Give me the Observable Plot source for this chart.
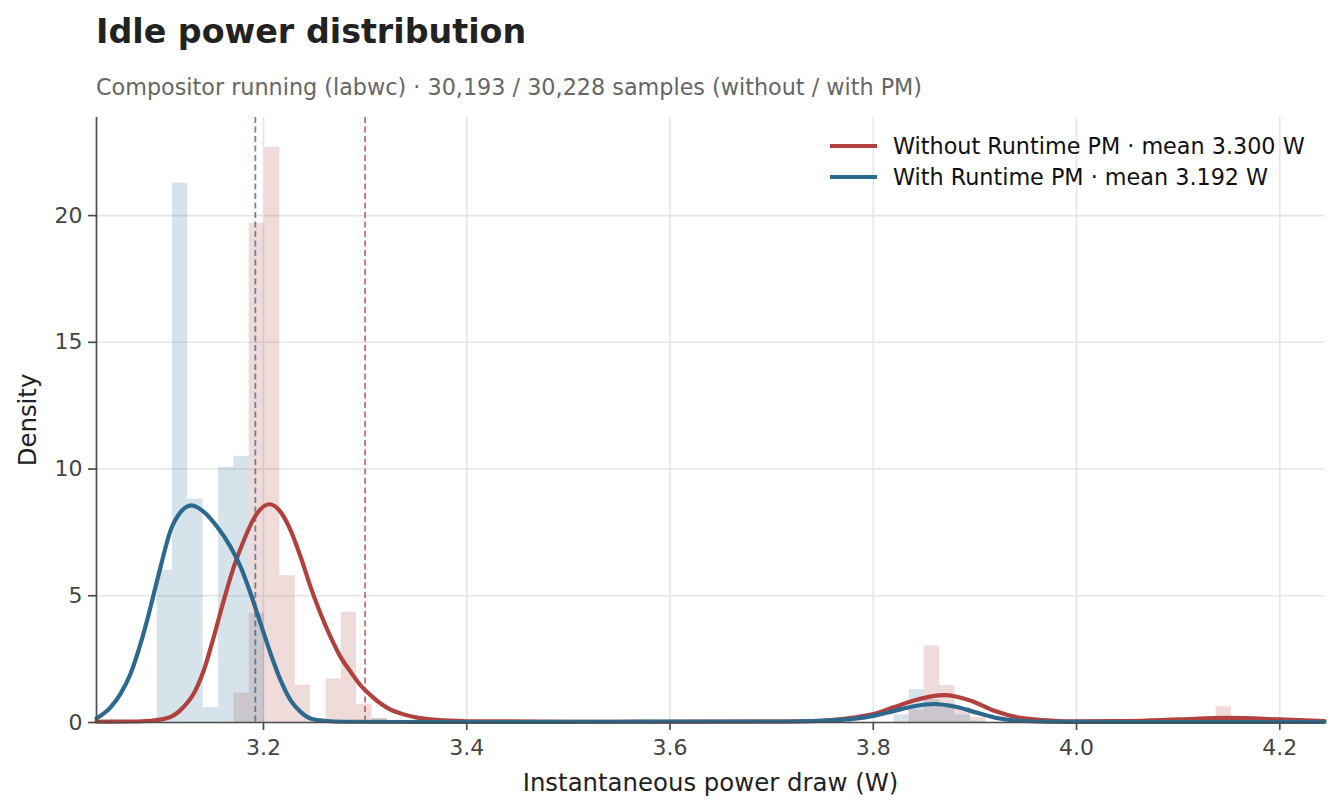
<!DOCTYPE html>
<html>
<head>
<meta charset="utf-8">
<script src="https://cdn.jsdelivr.net/npm/d3@7"></script>
<script src="https://cdn.jsdelivr.net/npm/@observablehq/plot@0.6"></script>
<style>
  body { margin: 0; background: #fff; font-family: "DejaVu Sans", sans-serif; }
  #wrap { position: relative; width: 1339px; height: 811px; overflow: hidden; }
  #title { position: absolute; left: 96px; top: 15px; font-size: 33.3px; line-height: 33px; font-weight: bold; color: #222; white-space: nowrap; }
  #subtitle { position: absolute; left: 96px; top: 76px; font-size: 22.3px; line-height: 22px; color: #666; white-space: nowrap; }
  #chart { position: absolute; left: 0; top: 100px; }
  #legend { position: absolute; left: 830px; top: 130px; font-size: 22.3px; color: #111; }
  .row { display: flex; align-items: center; height: 31px; white-space: nowrap; }
  .swatch { width: 47px; height: 4px; margin-right: 16px; }
</style>
</head>
<body>
<div id="wrap">
  <div id="title">Idle power distribution</div>
  <div id="subtitle">Compositor running (labwc) · 30,193 / 30,228 samples (without / with PM)</div>
  <div id="chart"></div>
  <div id="legend"></div>
</div>
<script>
// Series colours
const colorWithout = "#b0413e";
const colorWith = "#2b6a8e";

// Axis extents and ticks
const xMin = 3.0357, xMax = 4.244;
const yMax = 23.87;
const xTicks = [3.2, 3.4, 3.6, 3.8, 4.0, 4.2];
const yTicks = [0, 5, 10, 15, 20];

// Histogram bins (lower edge, density); all bins share one width
const binWidth = 0.0151;
const withoutBinStart = [3.1709, 3.1860, 3.2011, 3.2162, 3.2313, 3.2464, 3.2615, 3.2766, 3.2917, 3.3068,
                         3.8353, 3.8504, 3.8655, 3.8806, 3.8957, 4.1373];
const withoutDensity  = [1.16, 19.7, 22.7, 5.79, 1.47, 0.05, 1.72, 4.35, 0.72, 0.16,
                         0.5, 3.02, 1.46, 0.6, 0.2, 0.62];
const withBinStart = [3.0954, 3.1105, 3.1256, 3.1407, 3.1558, 3.1709, 3.1860, 3.3068,
                      3.8202, 3.8353, 3.8504, 3.8655, 3.8806, 3.8957];
const withDensity  = [6.01, 21.28, 8.81, 0.58, 10.07, 10.5, 4.31, 0.15,
                      0.3, 1.30, 0.9, 0.75, 0.3, 0.05];

// Kernel density estimates (power in W, density)
const withoutKdeX = [3.0357, 3.07, 3.0888, 3.1085, 3.1216, 3.1314, 3.1413, 3.1511, 3.1610, 3.1708, 3.1807, 3.1905,
  3.2059, 3.2168, 3.2266, 3.2365, 3.2463, 3.2561, 3.2660, 3.2758, 3.2857, 3.2955, 3.3053, 3.3152, 3.3250, 3.3348,
  3.35, 3.37, 3.40, 3.50, 3.60, 3.70, 3.75, 3.78, 3.80, 3.82, 3.84, 3.87, 3.896, 3.919, 3.945, 3.978, 4.00, 4.05,
  4.10, 4.15, 4.20, 4.244];
const withoutKdeY = [0.03, 0.04, 0.07, 0.22, 0.62, 1.14, 2.06, 3.38, 4.83, 6.14, 7.19, 8.05,
  8.61, 8.31, 7.59, 6.54, 5.35, 4.30, 3.38, 2.59, 2.00, 1.47, 1.08, 0.75, 0.51, 0.36,
  0.2, 0.1, 0.05, 0.03, 0.03, 0.04, 0.07, 0.19, 0.33, 0.60, 0.87, 1.08, 0.86, 0.46, 0.18, 0.07, 0.05, 0.06,
  0.12, 0.18, 0.12, 0.06];
const withKdeX = [3.0357, 3.0495, 3.0593, 3.0692, 3.0790, 3.0872, 3.0921, 3.0987, 3.1085, 3.1184, 3.1292, 3.1413,
  3.1544, 3.1676, 3.1775, 3.1873, 3.1971, 3.2070, 3.2168, 3.2266, 3.2365, 3.2463, 3.2594, 3.28, 3.35, 3.45,
  3.55, 3.65, 3.72, 3.76, 3.78, 3.80, 3.82, 3.84, 3.86, 3.88, 3.90, 3.92, 3.94, 3.97, 4.05, 4.15, 4.244];
const withKdeY = [0.16, 0.6, 1.13, 1.92, 3.10, 4.29, 5.08, 6.13, 7.57, 8.30, 8.57, 8.31,
  7.72, 6.93, 6.14, 5.09, 3.91, 2.72, 1.67, 0.88, 0.42, 0.16, 0.07, 0.03, 0.02, 0.02,
  0.03, 0.04, 0.04, 0.08, 0.14, 0.26, 0.45, 0.64, 0.73, 0.63, 0.41, 0.19, 0.08, 0.03, 0.02, 0.02, 0.02];

// Means
const meanWithout = 3.300;
const meanWith = 3.192;

// Labels
const seriesLabels = [
  {name: "Without Runtime PM", mean: meanWithout, color: colorWithout},
  {name: "With Runtime PM", mean: meanWith, color: colorWith}
];
const xLabel = "Instantaneous power draw (W)";
const yLabel = "Density";

const bins = (starts, dens) => starts.map((s, i) => ({x1: s, x2: s + binWidth, y: dens[i]}));
const curve = (xs, ys) => xs.map((x, i) => ({x, y: ys[i]}));

const axisColor = "#4d4d4d";

const chart = Plot.plot({
  width: 1339,
  height: 711,
  marginTop: 17,
  marginBottom: 89,
  marginLeft: 96,
  marginRight: 15,
  style: {fontFamily: "DejaVu Sans", background: "white"},
  x: {domain: [xMin, xMax]},
  y: {domain: [0, yMax]},
  marks: [
    Plot.gridX(xTicks, {stroke: "#e5e5e5", strokeOpacity: 1, strokeWidth: 1.6}),
    Plot.gridY(yTicks, {stroke: "#e5e5e5", strokeOpacity: 1, strokeWidth: 1.6}),
    Plot.rectY(bins(withoutBinStart, withoutDensity), {x1: "x1", x2: "x2", y: "y", fill: colorWithout, fillOpacity: 0.19, inset: 0}),
    Plot.rectY(bins(withBinStart, withDensity), {x1: "x1", x2: "x2", y: "y", fill: colorWith, fillOpacity: 0.19, inset: 0}),
    Plot.ruleX([meanWithout], {stroke: colorWithout, strokeOpacity: 0.75, strokeWidth: 1.8, strokeDasharray: "6,3.5"}),
    Plot.ruleX([meanWith], {stroke: colorWith, strokeOpacity: 0.75, strokeWidth: 1.8, strokeDasharray: "6,3.5"}),
    Plot.line(curve(withoutKdeX, withoutKdeY), {x: "x", y: "y", stroke: colorWithout, strokeWidth: 4.2, curve: "monotone-x"}),
    Plot.line(curve(withKdeX, withKdeY), {x: "x", y: "y", stroke: colorWith, strokeWidth: 4.2, curve: "monotone-x"}),
    Plot.ruleY([0], {stroke: axisColor, strokeWidth: 1.7}),
    Plot.ruleX([xMin], {stroke: axisColor, strokeWidth: 1.7}),
    Plot.axisX({ticks: xTicks, tickFormat: d => d.toFixed(1), tickSize: 8, tickPadding: 9, fontSize: 22,
                stroke: axisColor, fill: "#444", strokeWidth: 1.7, label: null}),
    Plot.axisY({ticks: yTicks, tickFormat: d => String(d), tickSize: 8, tickPadding: 6, fontSize: 22,
                stroke: axisColor, fill: "#444", strokeWidth: 1.7, label: null}),
    Plot.text([xLabel], {frameAnchor: "bottom", text: d => d, dy: 68, fontSize: 24.4, fill: "#222"}),
    Plot.text([yLabel], {frameAnchor: "left", textAnchor: "middle", text: d => d, dx: -68, rotate: -90, fontSize: 24.4, fill: "#222"})
  ]
});
document.getElementById("chart").appendChild(chart);

// Legend in the upper right of the plot area
const legend = document.getElementById("legend");
for (const s of seriesLabels) {
  const row = document.createElement("div");
  row.className = "row";
  const sw = document.createElement("div");
  sw.className = "swatch";
  sw.style.background = s.color;
  const label = document.createElement("span");
  label.textContent = `${s.name} · mean ${s.mean.toFixed(3)} W`;
  row.appendChild(sw);
  row.appendChild(label);
  legend.appendChild(row);
}
</script>
</body>
</html>
